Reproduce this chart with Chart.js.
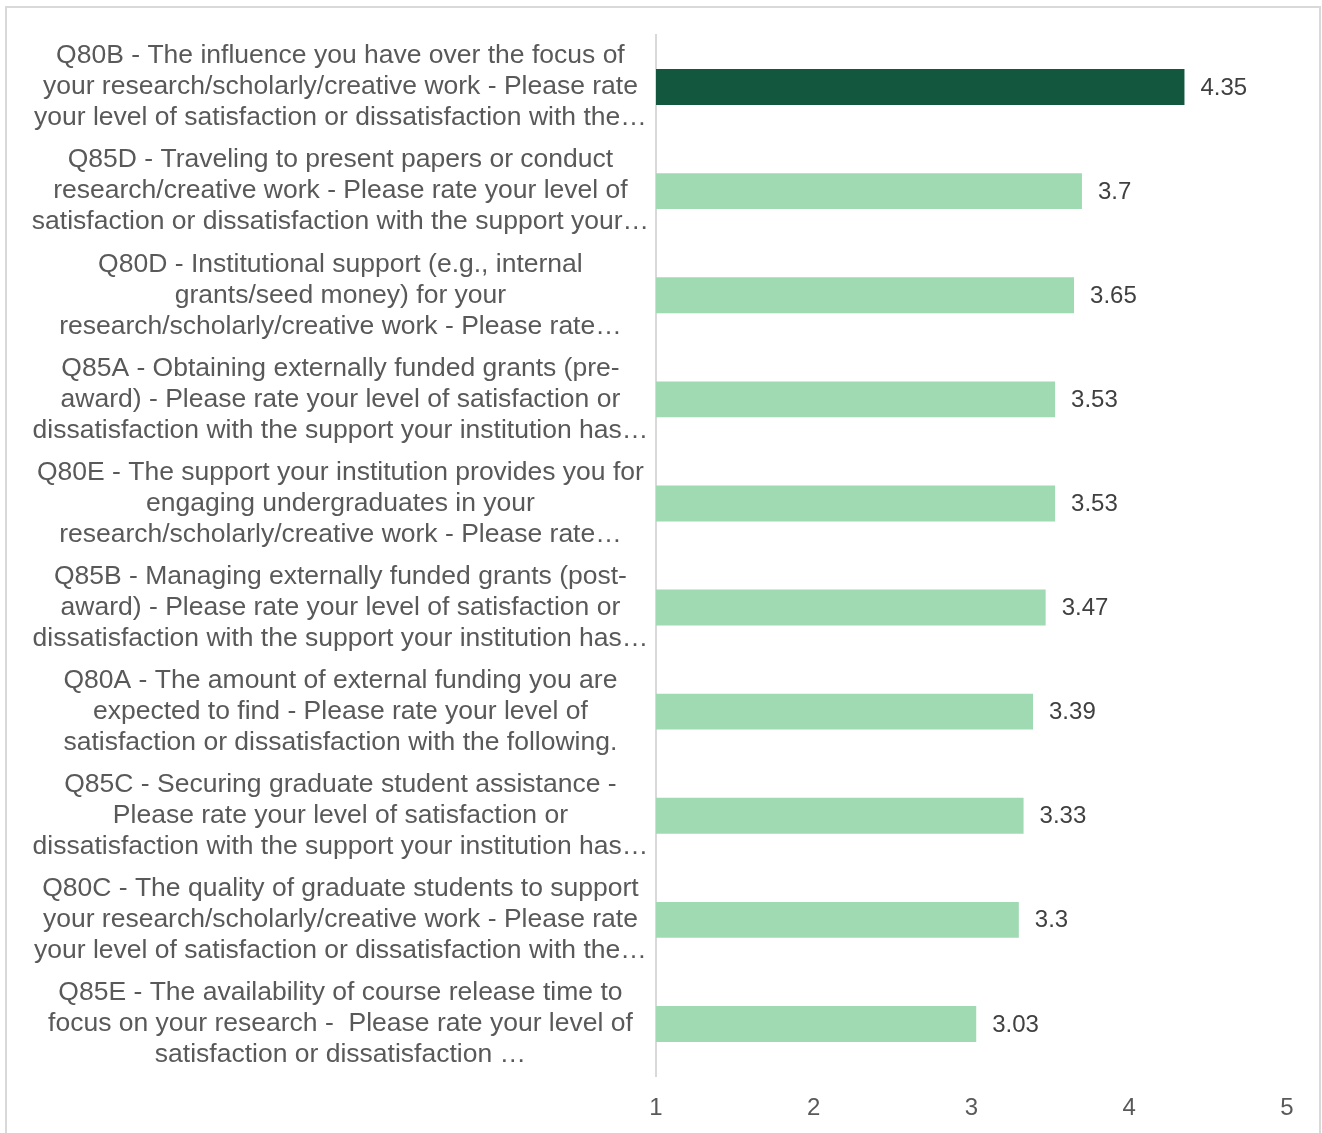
<!DOCTYPE html>
<html>
<head>
<meta charset="utf-8">
<script src="https://cdn.jsdelivr.net/npm/chart.js@4.4.1/dist/chart.umd.min.js"></script>
<style>
  html, body { margin: 0; padding: 0; background: #fff; }
  #marco { position: absolute; left: 5px; top: 6px; width: 1312px; height: 1140px; border: 2px solid #d9d9d9; border-bottom: none; }
  #grafica { position: absolute; left: 0; top: 0; }
</style>
</head>
<body>
<div id="marco"></div>
<canvas id="grafica" width="1322" height="1133"></canvas>
<script>
const preguntas = [
    ['Q80B - The influence you have over the focus of', 'your research/scholarly/creative work - Please rate', 'your level of satisfaction or dissatisfaction with the…'],
    ['Q85D - Traveling to present papers or conduct', 'research/creative work - Please rate your level of', 'satisfaction or dissatisfaction with the support your…'],
    ['Q80D - Institutional support (e.g., internal', 'grants/seed money) for your', 'research/scholarly/creative work - Please rate…'],
    ['Q85A - Obtaining externally funded grants (pre-', 'award) - Please rate your level of satisfaction or', 'dissatisfaction with the support your institution has…'],
    ['Q80E - The support your institution provides you for', 'engaging undergraduates in your', 'research/scholarly/creative work - Please rate…'],
    ['Q85B - Managing externally funded grants (post-', 'award) - Please rate your level of satisfaction or', 'dissatisfaction with the support your institution has…'],
    ['Q80A - The amount of external funding you are', 'expected to find - Please rate your level of', 'satisfaction or dissatisfaction with the following.'],
    ['Q85C - Securing graduate student assistance -', 'Please rate your level of satisfaction or', 'dissatisfaction with the support your institution has…'],
    ['Q80C - The quality of graduate students to support', 'your research/scholarly/creative work - Please rate', 'your level of satisfaction or dissatisfaction with the…'],
    ['Q85E - The availability of course release time to', 'focus on your research -  Please rate your level of', 'satisfaction or dissatisfaction …']
];
const valores = [4.35, 3.7, 3.65, 3.53, 3.53, 3.47, 3.39, 3.33, 3.3, 3.03];
const marcasEje = [1, 2, 3, 4, 5];

const verdeOscuro = '#13573F';
const verdeClaro = '#A0DAB2';
const fuente = '"Liberation Sans", Arial, sans-serif';

// etiquetas de valor a la derecha de cada barra
const etiquetasValor = {
    id: 'etiquetasValor',
    afterDatasetsDraw(chart) {
        const ctx = chart.ctx;
        const meta = chart.getDatasetMeta(0);
        ctx.save();
        ctx.font = '24px ' + fuente;
        ctx.fillStyle = '#404040';
        ctx.textBaseline = 'middle';
        ctx.textAlign = 'left';
        meta.data.forEach((barra, i) => {
            ctx.fillText(String(valores[i]), barra.x + 16, barra.y + 1);
        });
        ctx.restore();
    }
};

const ctx = document.getElementById('grafica').getContext('2d');
const grafica = new Chart(ctx, {
    type: 'bar',
    data: {
        labels: preguntas,
        datasets: [{
            data: valores,
            backgroundColor: valores.map((v, i) => i === 0 ? verdeOscuro : verdeClaro),
            borderWidth: 0,
            barPercentage: 0.345,
            categoryPercentage: 1
        }]
    },
    options: {
        indexAxis: 'y',
        responsive: false,
        animation: false,
        layout: { padding: { top: 35, left: 10, right: 35, bottom: 0 } },
        plugins: {
            legend: { display: false },
            tooltip: { enabled: false }
        },
        scales: {
            x: {
                type: 'linear',
                min: 1,
                max: 5,
                grid: { display: false, drawTicks: false },
                border: { display: false },
                ticks: {
                    color: '#595959',
                    font: { family: fuente, size: 24 },
                    padding: 18
                },
                afterBuildTicks(escala) {
                    escala.ticks = marcasEje.map(v => ({ value: v }));
                },
                afterFit(escala) {
                    escala.height = 57;
                }
            },
            y: {
                grid: { display: false, drawTicks: false },
                border: { display: true, color: '#d9d9d9', width: 2 },
                ticks: {
                    color: '#595959',
                    font: { family: fuente, size: 26.5, lineHeight: 1.17 },
                    crossAlign: 'center',
                    padding: 7,
                    autoSkip: false
                },
                afterFit(escala) {
                    escala.width = 646;
                    escala.paddingTop = 0;
                    escala.paddingBottom = 0;
                }
            }
        }
    },
    plugins: [etiquetasValor]
});
</script>
</body>
</html>
